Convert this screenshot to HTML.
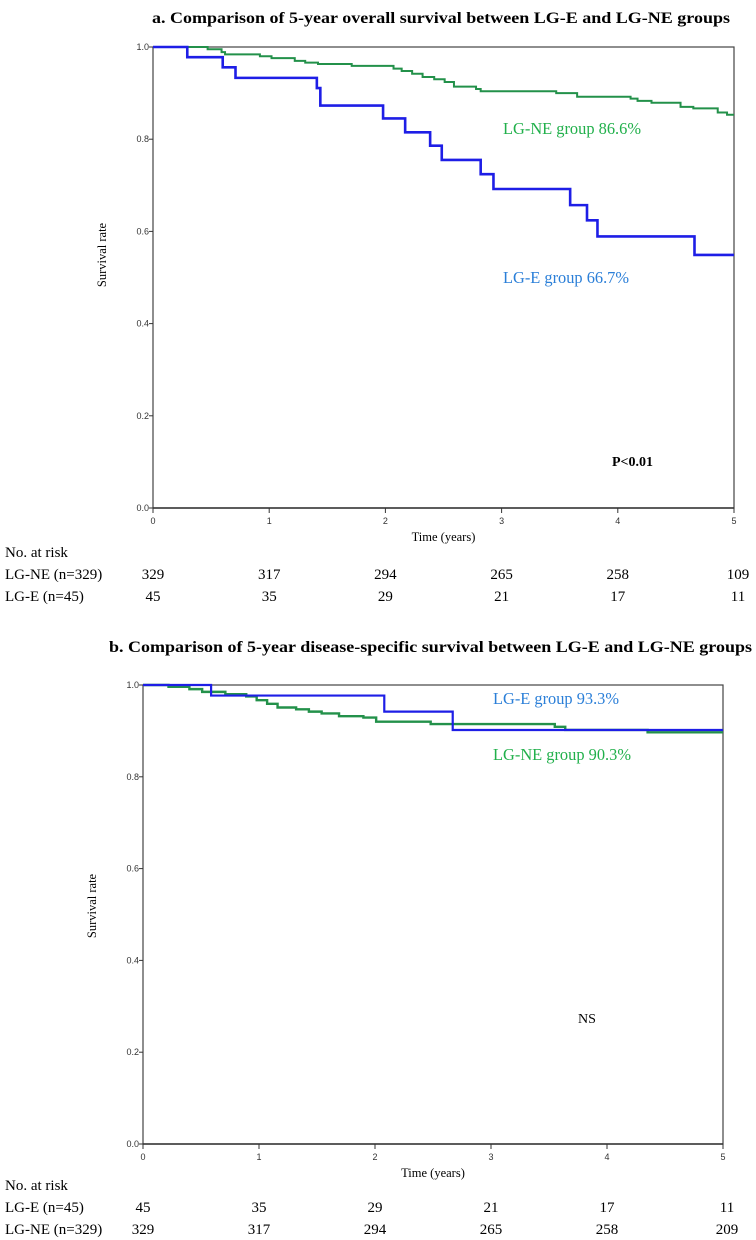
<!DOCTYPE html>
<html><head><meta charset="utf-8">
<style>
html,body{margin:0;padding:0;background:#fff;}
svg{display:block;}
.t{font-family:"Liberation Serif",serif;}
.s{font-family:"Liberation Sans",sans-serif;}
</style></head>
<body>
<svg id="svg" width="756" height="1240" viewBox="0 0 756 1240" xmlns="http://www.w3.org/2000/svg">
<text class="t" x="152" y="23" font-size="15.5" font-weight="bold" textLength="578" lengthAdjust="spacingAndGlyphs">a. Comparison of 5-year overall survival between LG-E and LG-NE groups</text>
<text class="t" x="109" y="652" font-size="15.5" font-weight="bold" textLength="643" lengthAdjust="spacingAndGlyphs">b. Comparison of 5-year disease-specific survival between LG-E and LG-NE groups</text>
<g id="chartA"></g>
<g id="chartB"></g>
</svg>
<script>
// Chart A data (overall survival)
const aNE_t = [0,0.47,0.59,0.62,0.92,1.02,1.22,1.31,1.42,1.71,2.07,2.14,2.23,2.32,2.42,2.51,2.59,2.78,2.82,3.47,3.65,4.11,4.17,4.29,4.54,4.65,4.86,4.94];
const aNE_s = [1,0.995,0.989,0.984,0.98,0.976,0.97,0.966,0.963,0.959,0.953,0.948,0.942,0.935,0.93,0.924,0.914,0.909,0.904,0.9,0.892,0.888,0.883,0.879,0.87,0.867,0.858,0.853];
const aE_t = [0,0.295,0.6,0.71,1.41,1.44,1.98,2.17,2.385,2.485,2.82,2.93,3.59,3.735,3.825,4.66];
const aE_s = [1,0.978,0.956,0.933,0.911,0.873,0.845,0.815,0.786,0.755,0.724,0.692,0.657,0.624,0.589,0.549];
const aRiskNE = [329,317,294,265,258,109];
const aRiskE = [45,35,29,21,17,11];
// Chart B data (disease-specific survival)
const bE_t = [0,0.587,2.08,2.67];
const bE_s = [1,0.977,0.942,0.902];
const bNE_t = [0,0.22,0.4,0.51,0.71,0.89,0.98,1.07,1.16,1.32,1.43,1.54,1.69,1.9,2.01,2.48,3.55,3.64,4.35];
const bNE_s = [1,0.996,0.991,0.985,0.98,0.975,0.967,0.959,0.951,0.947,0.942,0.938,0.932,0.929,0.92,0.915,0.909,0.902,0.897];
const bRiskE = [45,35,29,21,17,11];
const bRiskNE = [329,317,294,265,258,209];
const xTicks = [0,1,2,3,4,5];
const yTicks = [0,0.2,0.4,0.6,0.8,1.0];

const NS='http://www.w3.org/2000/svg';
function mk(parent,tag,attrs,txt){const e=document.createElementNS(NS,tag);for(const k in attrs)e.setAttribute(k,attrs[k]);if(txt!==undefined)e.textContent=txt;parent.appendChild(e);return e;}

function drawChart(g,L,R,T,B,series,labels,risk,ytY){
  const xs=t=>L+(R-L)*t/5, ys=v=>B-(B-T)*v;
  const fr=mk(g,'rect',{x:L,y:T,width:R-L,height:B-T,fill:'none',stroke:'#444','stroke-width':1.2});
  
  
  const xa=mk(g,'line',{x1:L,y1:B,x2:R,y2:B,stroke:'#333','stroke-width':1.6});
  
  
  xTicks.forEach(v=>{
    mk(g,'line',{x1:xs(v),y1:B,x2:xs(v),y2:B+5,stroke:'#333','stroke-width':1});
    const tl=mk(g,'text',{x:xs(v),y:B+16,'font-size':9,'text-anchor':'middle',class:'s',fill:'#333'},String(v));
    
    
  });
  yTicks.forEach(v=>{
    mk(g,'line',{x1:L-4,y1:ys(v),x2:L,y2:ys(v),stroke:'#333','stroke-width':1});
    const tl=mk(g,'text',{x:L-4,y:ys(v)+3,'font-size':9,'text-anchor':'end',class:'s',fill:'#333'},v.toFixed(1));
    
    
  });
  const xt=mk(g,'text',{x:(L+R)/2,y:B+33,'font-size':12.5,'text-anchor':'middle',class:'t'},'Time (years)');
  
  
  const yt=mk(g,'text',{x:0,y:0,'font-size':12.5,'text-anchor':'middle',class:'t',transform:`translate(${L-47},${ytY}) rotate(-90)`},'Survival rate');
  
  
  series.forEach(s=>{
    let d=`M${xs(s.t[0])},${ys(s.s[0])}`;
    for(let i=1;i<s.t.length;i++){d+=` H${xs(s.t[i])} V${ys(s.s[i])}`;}
    d+=` H${xs(5)}`;
    const p=mk(g,'path',{d:d,fill:'none',stroke:s.color,'stroke-width':s.w});
    
    
  });
  labels.forEach(l=>{
    const a={x:l.x,y:l.y,'font-size':l.size||16.4,class:'t',fill:l.color};
    if(l.len){a.textLength=l.len;a.lengthAdjust='spacingAndGlyphs';}
    if(l.bold)a['font-weight']='bold';
    const e=mk(g,'text',a,l.text);
    
    
  });
  const rh=mk(g,'text',{x:5,y:risk.y0,'font-size':15,class:'t'},'No. at risk');
  
  
  risk.rows.forEach((r,ri)=>{
    const y=risk.y0+22*(ri+1);
    const lab=mk(g,'text',{x:5,y:y,'font-size':15,class:'t'},r.label);
    
    
    r.vals.forEach((v,i)=>{
      const c=mk(g,'text',{x:xs(xTicks[i])+(i===5?4:0),y:y,'font-size':15,'text-anchor':'middle',class:'t'},String(v));
      
      
    });
  });
}

drawChart(document.getElementById('chartA'),153,734,47,508,
 [{t:aNE_t,s:aNE_s,color:'#23914a',w:2,name:'lg-ne-curve'},{t:aE_t,s:aE_s,color:'#1e1ee6',w:2.6,name:'lg-e-curve'}],
 [{x:503,y:134,len:138,text:'LG-NE group 86.6%',color:'#21b04b',name:'lg-ne-label'},
  {x:503,y:283,len:126,text:'LG-E group 66.7%',color:'#2b7fd8',name:'lg-e-label'},
  {x:612,y:466,size:14,text:'P<0.01',color:'#000',bold:true,name:'p-value'}],
 {y0:557,rows:[{label:'LG-NE (n=329)',vals:aRiskNE},{label:'LG-E (n=45)',vals:aRiskE}]},255);

drawChart(document.getElementById('chartB'),143,723,685,1144,
 [{t:bNE_t,s:bNE_s,color:'#23914a',w:2.4,name:'lg-ne-curve'},{t:bE_t,s:bE_s,color:'#1e1ee6',w:2.2,name:'lg-e-curve'}],
 [{x:493,y:704,len:126,text:'LG-E group 93.3%',color:'#2b7fd8',name:'lg-e-label'},
  {x:493,y:760,len:138,text:'LG-NE group 90.3%',color:'#21b04b',name:'lg-ne-label'},
  {x:578,y:1023,size:14,text:'NS',color:'#000',name:'significance-label'}],
 {y0:1190,rows:[{label:'LG-E (n=45)',vals:bRiskE},{label:'LG-NE (n=329)',vals:bRiskNE}]},906);
</script>
</body></html>
